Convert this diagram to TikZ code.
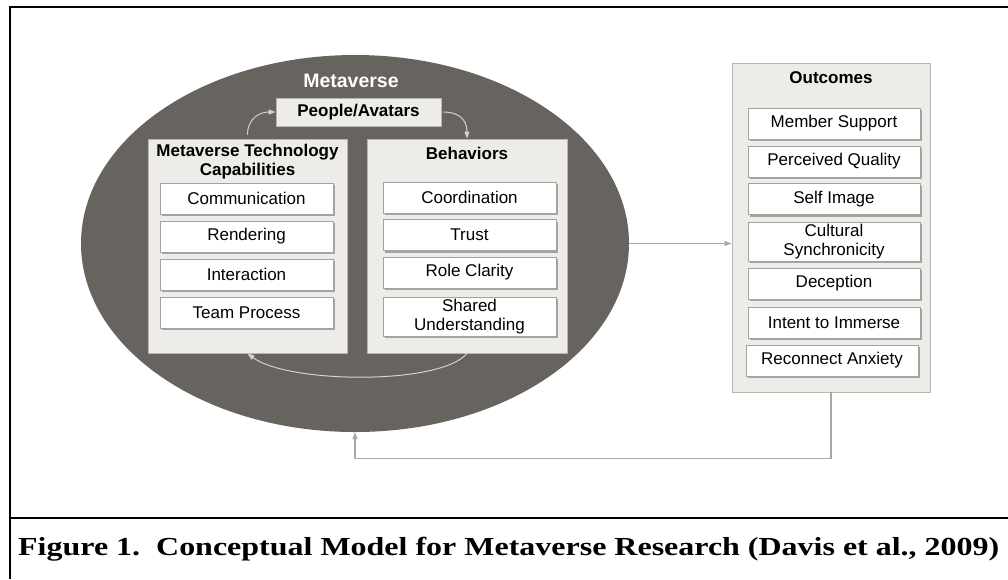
\documentclass[tikz,border=0pt]{standalone}
\usepackage{fontspec}
\setmainfont{Liberation Sans}
\newfontfamily\capfont[FakeStretch=1.23]{Liberation Serif}
\usetikzlibrary{arrows.meta,shadows,shapes.geometric}

\definecolor{verse}{HTML}{67635F}
\definecolor{panelgray}{HTML}{EDECE8}
\definecolor{rim}{HTML}{B8B6B2}
\definecolor{itemrim}{HTML}{A4A29E}
\definecolor{linkgray}{HTML}{A8A8A8}
\definecolor{loopgray}{HTML}{D4D2CE}

\tikzset{
  panel/.style 2 args={draw=rim, fill=panelgray, line width=0.9pt,
    minimum width=#1, minimum height=#2, inner sep=0pt},
  item/.style={draw=itemrim, fill=white, line width=0.8pt,
    minimum width=173pt, minimum height=31pt, inner sep=0pt, align=center,
    font=\fontsize{17}{18.5}\selectfont,
    drop shadow={shadow xshift=2pt, shadow yshift=-2pt, fill=black, opacity=0.3}},
  title/.style={font=\bfseries\fontsize{17}{19}\selectfont, align=center, inner sep=0pt},
  link/.style={draw=linkgray, line width=1.2pt,
    -{Triangle[length=7pt,width=5pt]}},
  cycle/.style={draw=loopgray, line width=1pt,
    -{Triangle[length=7pt,width=5pt]}}
}

\begin{document}
\begin{tikzpicture}[x=1pt,y=-1pt]
  \useasboundingbox (0,0) rectangle (1008,579);

  % Frame and caption rule
  \draw[line width=2pt] (1008,7) -- (10,7) -- (10,579);
  \draw[line width=2pt] (10,518) -- (1008,518);

  % Metaverse world
  \node[ellipse, fill=verse, minimum width=548pt, minimum height=377pt,
        inner sep=0pt] (world) at (355,243.5) {};
  \node[text=white, font=\bfseries\fontsize{19.5}{21}\selectfont]
        (worldtitle) at (351,81) {Metaverse};
  \node[panel={165pt}{28pt}, font=\bfseries\fontsize{17}{19}\selectfont]
        (people) at (358.5,112) {People/Avatars};

  % Technology capabilities
  \node[panel={199pt}{214pt}] (tech) at (247.5,246) {};
  \node[title] (techtitle) at (247.5,162) {Metaverse Technology\\Capabilities};
  \node[item] (comm)   at (246.5,198.5) {Communication};
  \node[item] (render) at (246.5,236.5) {Rendering};
  \node[item] (inter)  at (246.5,274.5) {Interaction};
  \node[item] (team)   at (246.5,312.5) {Team Process};

  % Behaviors
  \node[panel={200pt}{214pt}] (beh) at (467,246) {};
  \node[title] (behtitle) at (467,153) {Behaviors};
  \node[item] (coord)  at (469.5,197.5) {Coordination};
  \node[item] (trust)  at (469.5,235)   {Trust};
  \node[item] (role)   at (469.5,272.5) {Role Clarity};
  \node[item, minimum height=39pt] (shared) at (469.5,316.5)
        {Shared\\Understanding};

  % Outcomes
  \node[panel={198pt}{329pt}] (outcomes) at (831,227.5) {};
  \node[title] (outtitle) at (831,78) {Outcomes};
  \node[item, minimum width=172pt] (support)   at (834,123.5) {Member Support};
  \node[item, minimum width=172pt] (quality)   at (834,161.5) {Perceived Quality};
  \node[item, minimum width=172pt] (selfimg)   at (834,199)   {Self Image};
  \node[item, minimum width=172pt, minimum height=39pt] (culture) at (834,241.5)
        {Cultural\\Synchronicity};
  \node[item, minimum width=172pt] (deception) at (834,283.5) {Deception};
  \node[item, minimum width=172pt] (immerse)   at (834,322.5) {Intent to Immerse};
  \node[item, minimum width=172pt] (anxiety)   at (832,360.5) {Reconnect Anxiety};

  % Cycle inside the world
  \draw[cycle, shorten <=4pt] (tech.north) .. controls +(0,-20) and +(-16,0) .. (people.west);
  \draw[cycle, shorten <=2pt] (people.east) .. controls +(16,0) and +(0,-20) .. (beh.north);
  \draw[cycle] (beh.south) .. controls +(-27,32) and +(40,30) .. (tech.south);

  % World to outcomes and feedback
  \draw[link] (world.east) -- (world.east -| outcomes.west);
  \draw[link] (outcomes.south) -- ++(0,66) -| (world.south);

  % Caption
  \node[anchor=west, inner sep=0pt,
        font=\capfont\bfseries\fontsize{26}{28}\selectfont]
        (caption) at (18,549)
        {Figure 1.\ \ Conceptual Model for Metaverse Research (Davis et al., 2009)};
\end{tikzpicture}
\end{document}
